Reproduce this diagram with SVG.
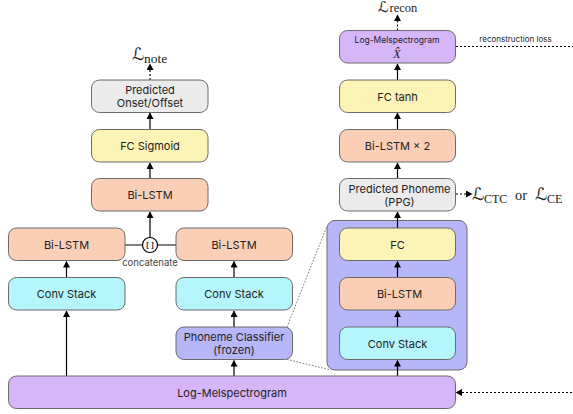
<svg xmlns="http://www.w3.org/2000/svg" width="573" height="414" viewBox="0 0 573 414">
<style>
text{font-family:Inter,"Liberation Sans",sans-serif;font-size:11px;fill:#222;text-anchor:middle}
.b{stroke:#6b6b6b;stroke-width:1;rx:8px;ry:8px}
.gray{fill:#ebebeb}.yel{fill:#fcf3b6}.org{fill:#fbcfb6}.cy{fill:#b4f6fb}.blu{fill:#b7b6f8}.pur{fill:#d7b5f9}
.a{stroke:#000;stroke-width:1.2;fill:none;marker-end:url(#ah)}
.d{stroke:#000;stroke-width:1.2;fill:none;stroke-dasharray:2 2;marker-end:url(#ah)}
.t{stroke:#555;stroke-width:.8;fill:none;stroke-dasharray:1.6 1.6}
.l{stroke:#000;stroke-width:1.2;fill:none}
.r{stroke:#000;stroke-width:1.2;fill:none;stroke-dasharray:2 2}
.m{font-family:"DejaVu Sans","Liberation Serif",serif;font-size:17px;text-anchor:start}
.s{font-family:"Liberation Serif",serif;font-size:13.5px;text-anchor:start}
.o{font-family:"Liberation Serif",serif;font-size:14.5px;text-anchor:start}
</style>
<defs><marker id="ah" markerUnits="userSpaceOnUse" markerWidth="7" markerHeight="7" refX="6" refY="3.5" orient="auto"><path d="M0 0L6.500 3.500L0 7Z" fill="#000"/></marker></defs>
<g id="phoneme-detail"><rect class="b blu" x="327" y="220.500" width="140" height="149.500"/></g>
<g id="connectors">
<path class="d" d="M150 80V64"/>
<path class="a" d="M150 129V113"/><path class="a" d="M150 178.500V163"/><path class="a" d="M150 241V212"/>
<path class="l" d="M124.500 245H176"/>
<path class="a" d="M66.500 277V261.500"/><path class="a" d="M66.500 376V311"/>
<path class="a" d="M234 277V261.500"/><path class="a" d="M234 327V311"/><path class="a" d="M234 376V360.500"/>
<path class="a" d="M397.500 376V360.500"/><path class="a" d="M397.500 327V311"/><path class="a" d="M397.500 277V261.500"/><path class="a" d="M397.500 228V212"/>
<path class="a" d="M397.500 178.500V163"/><path class="a" d="M397.500 129V113"/><path class="a" d="M397.500 80V64"/>
<path class="d" d="M397.500 30.500V15"/>
<path class="d" d="M456 194H472"/>
<path class="d" d="M572 392.500H456"/>
<path class="r" d="M456 46.500H573"/>
<path class="t" d="M287 327L327 226"/><path class="t" d="M287 359.500L331 370"/>
</g>
<g id="note-loss"><text class="m" x="132" y="60">ℒ</text><text class="s" x="144" y="63">note</text></g>
<g id="predicted-onset"><rect class="b gray" x="91.500" y="80" width="116.500" height="32.500"/><text x="150" y="94">Predicted</text><text x="150" y="107">Onset/Offset</text></g>
<g id="fc-sigmoid"><rect class="b yel" x="91.500" y="129.500" width="116.500" height="32.500"/><text x="150" y="150">FC Sigmoid</text></g>
<g id="bilstm-mid"><rect class="b org" x="91.500" y="178.500" width="116.500" height="32.500"/><text x="150" y="199">Bi-LSTM</text></g>
<g id="bilstm-left"><rect class="b org" x="8.500" y="228" width="116.500" height="32.500"/><text x="66.500" y="248.500">Bi-LSTM</text></g>
<g id="bilstm-right"><rect class="b org" x="176" y="228" width="116.500" height="32.500"/><text x="234" y="248.500">Bi-LSTM</text></g>
<g id="concat"><circle cx="150" cy="245" r="7.500" fill="#fff" stroke="#000" stroke-width="1.200"/><text x="150" y="248" style="font-size:8px;font-weight:600">[ ]</text><text x="150" y="266" style="font-size:9.500px;fill:#444">concatenate</text></g>
<g id="conv-left"><rect class="b cy" x="8.500" y="277.500" width="116.500" height="32.500"/><text x="66.500" y="298">Conv Stack</text></g>
<g id="conv-right"><rect class="b cy" x="176" y="277.500" width="116.500" height="32.500"/><text x="234" y="298">Conv Stack</text></g>
<g id="phoneme-classifier"><rect class="b blu" x="176" y="327" width="116.500" height="32.500"/><text x="234" y="340.500">Phoneme Classifier</text><text x="234" y="354">(frozen)</text></g>
<g id="log-mel"><rect class="b pur" x="8.500" y="376" width="447" height="32.500"/><text x="232" y="396.500">Log-Melspectrogram</text></g>
<g id="recon-loss"><text class="m" x="378" y="12" style="font-size:15px">ℒ</text><text class="s" x="389.500" y="12" style="font-size:12.500px">recon</text></g>
<g id="log-mel-hat"><rect class="b pur" x="339.500" y="30.500" width="116" height="32.500"/><text x="397" y="42.500" style="font-size:8.500px">Log-Melspectrogram</text><text x="397" y="58" style="font-family:'Liberation Serif',serif;font-style:italic;font-size:12px">X̂</text></g>
<text x="515.500" y="42" style="font-size:8px">reconstruction loss</text>
<g id="fc-tanh"><rect class="b yel" x="339.500" y="80" width="116" height="32.500"/><text x="397.500" y="100.500">FC tanh</text></g>
<g id="bilstm-2"><rect class="b org" x="339.500" y="129.500" width="116" height="32.500"/><text x="397.500" y="150">Bi-LSTM × 2</text></g>
<g id="predicted-phoneme"><rect class="b gray" x="339.500" y="178.500" width="116" height="32.500"/><text x="399.500" y="192.500">Predicted Phoneme</text><text x="399.500" y="206">(PPG)</text></g>
<g id="ctc-loss"><text class="m" x="472" y="200">ℒ</text><text class="s" x="484" y="203" style="font-size:12px">CTC</text><text class="o" x="515" y="200">or</text><text class="m" x="535" y="200">ℒ</text><text class="s" x="547" y="203" style="font-size:12px">CE</text></g>
<g id="fc"><rect class="b yel" x="339.500" y="228" width="116" height="32.500"/><text x="397.500" y="248.500">FC</text></g>
<g id="bilstm-inner"><rect class="b org" x="339.500" y="277.500" width="116" height="32.500"/><text x="399.500" y="298">Bi-LSTM</text></g>
<g id="conv-inner"><rect class="b cy" x="339.500" y="327" width="116" height="32.500"/><text x="397.500" y="347.500">Conv Stack</text></g>
</svg>
